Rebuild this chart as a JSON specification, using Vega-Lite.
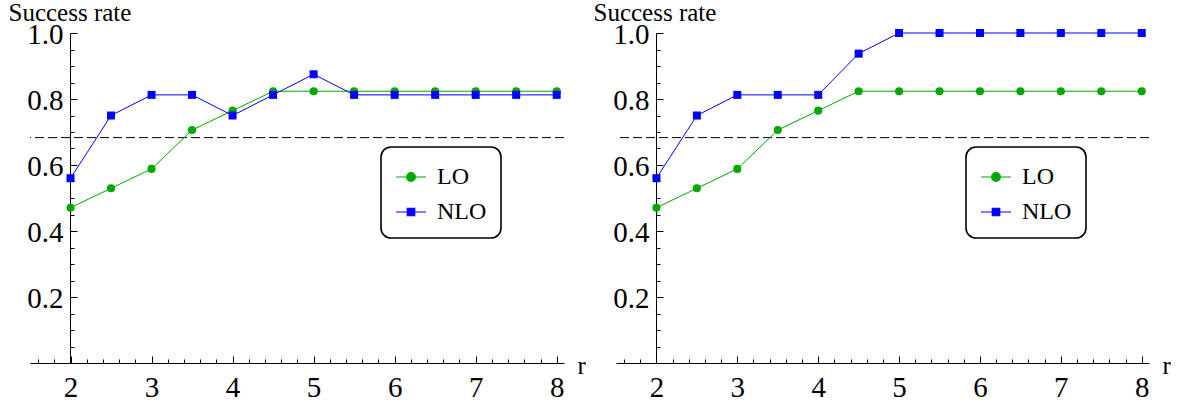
{
  "$schema": "https://vega.github.io/schema/vega-lite/v6.json",
  "background": "white",
  "padding": {"left": 8, "top": 0, "right": 0, "bottom": 0},
  "config": {
    "view": {"stroke": null},
    "font": "Liberation Serif",
    "axis": {"grid": false, "domainColor": "black", "tickColor": "black", "labelColor": "black", "titleColor": "black", "domainWidth": 1, "tickWidth": 1, "labelFlush": false, "labelOverlap": false, "labelBound": false, "titleFontWeight": "normal", "labelFont": "Liberation Serif", "titleFont": "Liberation Serif"}
  },
  "datasets": {
    "A": [
      {"series": "LO", "r": 2, "rate": 0.4706}, {"series": "LO", "r": 2.5, "rate": 0.5294}, {"series": "LO", "r": 3, "rate": 0.5882}, {"series": "LO", "r": 3.5, "rate": 0.7059}, {"series": "LO", "r": 4, "rate": 0.7647}, {"series": "LO", "r": 4.5, "rate": 0.8235}, {"series": "LO", "r": 5, "rate": 0.8235}, {"series": "LO", "r": 5.5, "rate": 0.8235}, {"series": "LO", "r": 6, "rate": 0.8235}, {"series": "LO", "r": 6.5, "rate": 0.8235}, {"series": "LO", "r": 7, "rate": 0.8235}, {"series": "LO", "r": 7.5, "rate": 0.8235}, {"series": "LO", "r": 8, "rate": 0.8235},
      {"series": "NLO", "r": 2, "rate": 0.56}, {"series": "NLO", "r": 2.5, "rate": 0.75}, {"series": "NLO", "r": 3, "rate": 0.8125}, {"series": "NLO", "r": 3.5, "rate": 0.8125}, {"series": "NLO", "r": 4, "rate": 0.75}, {"series": "NLO", "r": 4.5, "rate": 0.8125}, {"series": "NLO", "r": 5, "rate": 0.875}, {"series": "NLO", "r": 5.5, "rate": 0.8125}, {"series": "NLO", "r": 6, "rate": 0.8125}, {"series": "NLO", "r": 6.5, "rate": 0.8125}, {"series": "NLO", "r": 7, "rate": 0.8125}, {"series": "NLO", "r": 7.5, "rate": 0.8125}, {"series": "NLO", "r": 8, "rate": 0.8125}
    ],
    "B": [
      {"series": "LO", "r": 2, "rate": 0.4706}, {"series": "LO", "r": 2.5, "rate": 0.5294}, {"series": "LO", "r": 3, "rate": 0.5882}, {"series": "LO", "r": 3.5, "rate": 0.7059}, {"series": "LO", "r": 4, "rate": 0.7647}, {"series": "LO", "r": 4.5, "rate": 0.8235}, {"series": "LO", "r": 5, "rate": 0.8235}, {"series": "LO", "r": 5.5, "rate": 0.8235}, {"series": "LO", "r": 6, "rate": 0.8235}, {"series": "LO", "r": 6.5, "rate": 0.8235}, {"series": "LO", "r": 7, "rate": 0.8235}, {"series": "LO", "r": 7.5, "rate": 0.8235}, {"series": "LO", "r": 8, "rate": 0.8235},
      {"series": "NLO", "r": 2, "rate": 0.56}, {"series": "NLO", "r": 2.5, "rate": 0.75}, {"series": "NLO", "r": 3, "rate": 0.8125}, {"series": "NLO", "r": 3.5, "rate": 0.8125}, {"series": "NLO", "r": 4, "rate": 0.8125}, {"series": "NLO", "r": 4.5, "rate": 0.9375}, {"series": "NLO", "r": 5, "rate": 1.0}, {"series": "NLO", "r": 5.5, "rate": 1.0}, {"series": "NLO", "r": 6, "rate": 1.0}, {"series": "NLO", "r": 6.5, "rate": 1.0}, {"series": "NLO", "r": 7, "rate": 1.0}, {"series": "NLO", "r": 7.5, "rate": 1.0}, {"series": "NLO", "r": 8, "rate": 1.0}
    ],
    "ref": [{"level": 0.683}]
  },
  "bounds": "flush",
  "spacing": 52,
  "resolve": {"scale": {"color": "independent"}, "legend": {"color": "independent"}},
  "hconcat": [
    {
      "width": 534, "height": 330,
      "resolve": {"axis": {"x": "independent", "y": "independent"}},
      "layer": [
        {
          "data": {"name": "ref"},
          "mark": {"type": "rule", "color": "black", "strokeWidth": 1, "strokeDash": [9, 4]},
          "encoding": {"y": {"field": "level", "type": "quantitative", "axis": null}}
        },
        {
          "data": {"name": "A"},
          "mark": {"type": "line", "strokeWidth": 1},
          "encoding": {
            "x": {"field": "r", "type": "quantitative", "scale": {"domain": [1.5, 8.09], "nice": false, "zero": false},
              "axis": {"orient": "bottom", "title": "r", "values": [2, 3, 4, 5, 6, 7, 8], "tickSize": -7, "format": "d",
                "labelFontSize": 29, "labelPadding": 17, "titleFontSize": 25, "titleAlign": "left", "titleBaseline": "alphabetic", "titleX": 547, "titleY": 10}},
            "y": {"field": "rate", "type": "quantitative", "scale": {"domain": [0, 1], "nice": false},
              "axis": {"orient": "left", "title": "Success rate", "values": [0.2, 0.4, 0.6, 0.8, 1], "format": ".1f", "offset": -40, "tickSize": -7,
                "labelFontSize": 29, "labelPadding": 14, "labelOffset": 1, "titleFontSize": 25, "titleAngle": 0, "titleAlign": "left", "titleBaseline": "alphabetic", "titleX": -62, "titleY": -13}},
            "color": {"field": "series", "type": "nominal", "scale": {"domain": ["LO", "NLO"], "range": ["#00a800", "#0000ff"]},
              "legend": {"orient": "none", "legendX": 351, "legendY": 114, "direction": "vertical", "title": null, "padding": 14, "rowPadding": 7,
                "labelFont": "Liberation Serif", "labelFontSize": 24, "labelOffset": 10, "labelColor": "black", "symbolSize": 900,
                "strokeColor": "black", "cornerRadius": 10, "fillColor": "white",
                "encode": {
                  "legend": {"update": {"strokeWidth": {"value": 1.6}}},
                  "symbols": {"update": {
                    "shape": {"signal": "datum.value === 'LO' ? 'M-1,0H1M-0.29,0A0.29,0.29 0 1,1 0.29,0A0.29,0.29 0 1,1 -0.29,0Z' : 'M-1,0H1M-0.25,-0.25H0.25V0.25H-0.25Z'"},
                    "fill": {"signal": "datum.value === 'LO' ? '#00a800' : '#0000ff'"},
                    "stroke": {"signal": "datum.value === 'LO' ? '#2db82d' : '#3a3aff'"},
                    "size": {"value": 900}, "strokeWidth": {"value": 1.2}, "opacity": {"value": 1}, "fillOpacity": {"value": 1}, "strokeOpacity": {"value": 1}}}
                }}}
          }
        },
        {
          "data": {"name": "A"},
          "transform": [{"filter": "datum.series === 'LO'"}],
          "mark": {"type": "point", "filled": true, "shape": "circle", "size": 66, "opacity": 1, "strokeWidth": 0},
          "encoding": {
            "x": {"field": "r", "type": "quantitative",
              "axis": {"orient": "bottom", "title": null, "values": [1.6,1.8,2.2,2.4,2.6,2.8,3.2,3.4,3.6,3.8,4.2,4.4,4.6,4.8,5.2,5.4,5.6,5.8,6.2,6.4,6.6,6.8,7.2,7.4,7.6,7.8], "tickSize": -4, "labels": false, "domain": false}},
            "y": {"field": "rate", "type": "quantitative",
              "axis": {"orient": "left", "title": null, "values": [0.05,0.1,0.15,0.25,0.3,0.35,0.45,0.5,0.55,0.65,0.7,0.75,0.85,0.9,0.95], "offset": -40, "tickSize": -4, "labels": false, "domain": false}},
            "color": {"field": "series", "type": "nominal"}
          }
        },
        {
          "data": {"name": "A"},
          "transform": [{"filter": "datum.series === 'NLO'"}],
          "mark": {"type": "point", "filled": true, "shape": "square", "size": 64, "opacity": 1, "strokeWidth": 0},
          "encoding": {
            "x": {"field": "r", "type": "quantitative", "axis": null},
            "y": {"field": "rate", "type": "quantitative", "axis": null},
            "color": {"field": "series", "type": "nominal"}
          }
        }
      ]
    },
    {
      "width": 533, "height": 330,
      "resolve": {"axis": {"x": "independent", "y": "independent"}},
      "layer": [
        {
          "data": {"name": "ref"},
          "mark": {"type": "rule", "color": "black", "strokeWidth": 1, "strokeDash": [9, 4]},
          "encoding": {"y": {"field": "level", "type": "quantitative", "axis": null}}
        },
        {
          "data": {"name": "B"},
          "mark": {"type": "line", "strokeWidth": 1},
          "encoding": {
            "x": {"field": "r", "type": "quantitative", "scale": {"domain": [1.5, 8.09], "nice": false, "zero": false},
              "axis": {"orient": "bottom", "title": "r", "values": [2, 3, 4, 5, 6, 7, 8], "tickSize": -7, "format": "d",
                "labelFontSize": 29, "labelPadding": 17, "titleFontSize": 25, "titleAlign": "left", "titleBaseline": "alphabetic", "titleX": 546, "titleY": 10}},
            "y": {"field": "rate", "type": "quantitative", "scale": {"domain": [0, 1], "nice": false},
              "axis": {"orient": "left", "title": "Success rate", "values": [0.2, 0.4, 0.6, 0.8, 1], "format": ".1f", "offset": -40, "tickSize": -7,
                "labelFontSize": 29, "labelPadding": 14, "labelOffset": 1, "titleFontSize": 25, "titleAngle": 0, "titleAlign": "left", "titleBaseline": "alphabetic", "titleX": -63, "titleY": -13}},
            "color": {"field": "series", "type": "nominal", "scale": {"domain": ["LO", "NLO"], "range": ["#00a800", "#0000ff"]},
              "legend": {"orient": "none", "legendX": 350, "legendY": 114, "direction": "vertical", "title": null, "padding": 14, "rowPadding": 7,
                "labelFont": "Liberation Serif", "labelFontSize": 24, "labelOffset": 10, "labelColor": "black", "symbolSize": 900,
                "strokeColor": "black", "cornerRadius": 10, "fillColor": "white",
                "encode": {
                  "legend": {"update": {"strokeWidth": {"value": 1.6}}},
                  "symbols": {"update": {
                    "shape": {"signal": "datum.value === 'LO' ? 'M-1,0H1M-0.29,0A0.29,0.29 0 1,1 0.29,0A0.29,0.29 0 1,1 -0.29,0Z' : 'M-1,0H1M-0.25,-0.25H0.25V0.25H-0.25Z'"},
                    "fill": {"signal": "datum.value === 'LO' ? '#00a800' : '#0000ff'"},
                    "stroke": {"signal": "datum.value === 'LO' ? '#2db82d' : '#3a3aff'"},
                    "size": {"value": 900}, "strokeWidth": {"value": 1.2}, "opacity": {"value": 1}, "fillOpacity": {"value": 1}, "strokeOpacity": {"value": 1}}}
                }}}
          }
        },
        {
          "data": {"name": "B"},
          "transform": [{"filter": "datum.series === 'LO'"}],
          "mark": {"type": "point", "filled": true, "shape": "circle", "size": 66, "opacity": 1, "strokeWidth": 0},
          "encoding": {
            "x": {"field": "r", "type": "quantitative",
              "axis": {"orient": "bottom", "title": null, "values": [1.6,1.8,2.2,2.4,2.6,2.8,3.2,3.4,3.6,3.8,4.2,4.4,4.6,4.8,5.2,5.4,5.6,5.8,6.2,6.4,6.6,6.8,7.2,7.4,7.6,7.8], "tickSize": -4, "labels": false, "domain": false}},
            "y": {"field": "rate", "type": "quantitative",
              "axis": {"orient": "left", "title": null, "values": [0.05,0.1,0.15,0.25,0.3,0.35,0.45,0.5,0.55,0.65,0.7,0.75,0.85,0.9,0.95], "offset": -40, "tickSize": -4, "labels": false, "domain": false}},
            "color": {"field": "series", "type": "nominal"}
          }
        },
        {
          "data": {"name": "B"},
          "transform": [{"filter": "datum.series === 'NLO'"}],
          "mark": {"type": "point", "filled": true, "shape": "square", "size": 64, "opacity": 1, "strokeWidth": 0},
          "encoding": {
            "x": {"field": "r", "type": "quantitative", "axis": null},
            "y": {"field": "rate", "type": "quantitative", "axis": null},
            "color": {"field": "series", "type": "nominal"}
          }
        }
      ]
    }
  ]
}
